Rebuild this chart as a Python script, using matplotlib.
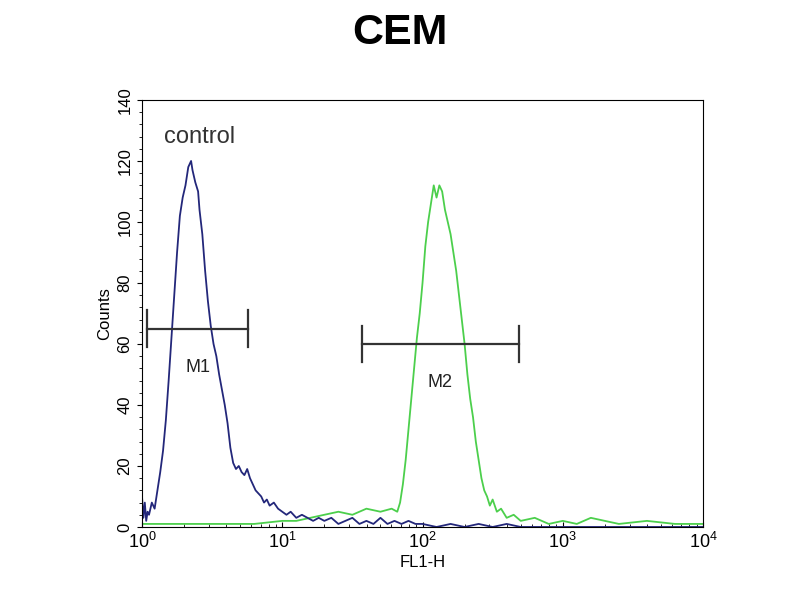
import numpy as np
import matplotlib.pyplot as plt
from matplotlib.ticker import MultipleLocator, LogLocator, NullFormatter

# control histogram (blue), x as decade position log10(FL1-H)
control_log_x = [0.00, 0.01, 0.02, 0.03, 0.04, 0.05, 0.07, 0.09, 0.11, 0.13,
                 0.15, 0.17, 0.19, 0.21, 0.23, 0.25, 0.27, 0.29, 0.31, 0.33,
                 0.35, 0.36, 0.38, 0.40, 0.41, 0.43, 0.45, 0.47, 0.49, 0.51,
                 0.53, 0.55, 0.57, 0.59, 0.61, 0.63, 0.65, 0.67, 0.69, 0.71,
                 0.73, 0.75, 0.77, 0.79, 0.81, 0.83, 0.85, 0.87, 0.89, 0.91,
                 0.94, 0.97, 1.00, 1.03, 1.06, 1.10, 1.14, 1.18, 1.22, 1.26,
                 1.30, 1.35, 1.40, 1.45, 1.50, 1.55, 1.60, 1.65, 1.70, 1.75,
                 1.80, 1.85, 1.90, 1.95, 2.00, 2.10, 2.20, 2.30, 2.40, 2.50,
                 2.60, 2.70, 2.80, 3.00, 3.50, 4.00]
control_counts = [10, 3, 8, 2, 5, 4, 8, 6, 12, 18,
                  25, 35, 48, 62, 76, 90, 102, 108, 112, 118,
                  120, 117, 113, 110, 104, 96, 84, 74, 66, 60,
                  56, 50, 45, 40, 34, 26, 21, 19, 20, 18,
                  17, 19, 16, 14, 12, 11, 10, 8, 9, 7,
                  8, 6, 5, 4, 5, 3, 4, 3, 2, 3,
                  2, 3, 1, 2, 3, 1, 2, 1, 3, 1,
                  2, 1, 2, 1, 1, 0, 1, 0, 1, 0,
                  1, 0, 0, 0, 0, 0]

# stained sample histogram (green)
sample_log_x = [0.00, 0.20, 0.40, 0.60, 0.80, 1.00, 1.10, 1.20, 1.30, 1.40,
                1.50, 1.60, 1.70, 1.78, 1.82, 1.84, 1.86, 1.88, 1.90, 1.92,
                1.94, 1.96, 1.98, 2.00, 2.02, 2.04, 2.06, 2.08, 2.10, 2.12,
                2.14, 2.16, 2.18, 2.20, 2.22, 2.24, 2.26, 2.28, 2.30, 2.32,
                2.34, 2.36, 2.38, 2.40, 2.42, 2.44, 2.46, 2.48, 2.50, 2.53,
                2.56, 2.60, 2.65, 2.70, 2.80, 2.90, 3.00, 3.10, 3.20, 3.40,
                3.60, 3.80, 3.90, 4.00]
sample_counts = [1, 1, 1, 1, 1, 2, 2, 3, 4, 5,
                 4, 6, 5, 6, 5, 8, 14, 22, 32, 42,
                 52, 62, 70, 80, 92, 100, 106, 112, 108, 112,
                 110, 104, 100, 96, 90, 84, 76, 68, 60, 50,
                 42, 36, 28, 22, 16, 12, 10, 7, 9, 5,
                 6, 3, 4, 2, 3, 1, 2, 1, 3, 1,
                 2, 1, 1, 1]

# marker gates: (label, start, end, level)
gate_names = ['M1', 'M2']
gate_start = [1.09, 37]
gate_end = [5.7, 485]
gate_level = [65, 60]

fig = plt.figure(figsize=(8, 6), dpi=100)
ax = fig.add_axes([0.1775, 0.1217, 0.7013, 0.7117])

ax.plot(np.power(10, sample_log_x), sample_counts, color='#4ccf4c', lw=1.3)
ax.plot(np.power(10, control_log_x), control_counts, color='#23277a', lw=1.3)

for name, x0, x1, y in zip(gate_names, gate_start, gate_end, gate_level):
    ax.plot([x0, x1], [y, y], color='#333333', lw=1.6)
    ax.plot([x0, x0], [y - 6, y + 6], color='#333333', lw=1.6)
    ax.plot([x1, x1], [y - 6, y + 6], color='#333333', lw=1.6)
    xm = np.sqrt(x0 * x1)
    ax.text(xm, y - 10, name, ha='center', va='top', fontsize=13,
            family='Liberation Sans', color='#222222')

ax.set_xscale('log')
ax.set_xlim(1, 1e4)
ax.set_ylim(0, 140)
ax.yaxis.set_major_locator(MultipleLocator(20))
ax.yaxis.set_minor_locator(MultipleLocator(4))
ax.xaxis.set_minor_locator(LogLocator(base=10, subs=np.arange(2, 10)))
ax.xaxis.set_minor_formatter(NullFormatter())
ax.tick_params(axis='x', which='both', direction='in', labelsize=13)
ax.tick_params(axis='y', which='both', direction='out', labelsize=12)
for lab in ax.get_yticklabels():
    lab.set_rotation(90)
    lab.set_va('center')
for lab in ax.get_xticklabels() + ax.get_yticklabels():
    lab.set_family('Liberation Sans')

ax.set_xlabel('FL1-H', fontsize=12, family='Liberation Sans', labelpad=2)
ax.set_ylabel('Counts', fontsize=12, family='Liberation Sans', labelpad=4)
ax.text(0.04, 0.94, 'control', transform=ax.transAxes, fontsize=17,
        family='Liberation Sans', color='#333333', va='top')

fig.text(0.5, 0.945, 'CEM', ha='center', va='center', fontsize=31,
         fontweight='bold', family='Liberation Sans')

fig.savefig('out.png', dpi=100)
